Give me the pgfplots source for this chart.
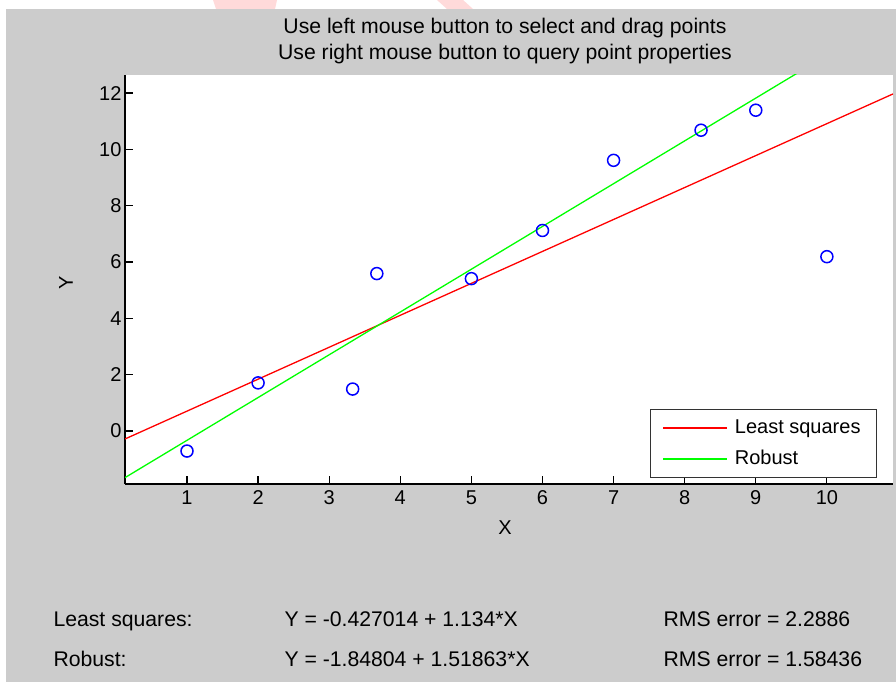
\documentclass[border=0pt]{standalone}
\usepackage{pgfplots}
\pgfplotsset{compat=1.18}
\usepackage{fontspec}
\setmainfont{Liberation Sans}
\definecolor{bg}{RGB}{204,204,204}
\definecolor{wm}{RGB}{255,218,218}
\newcommand\fs{\fontsize{20}{24}\selectfont}
\newcommand\ft{\fontsize{21.2}{25}\selectfont}
\begin{document}
\begin{tikzpicture}[x=1pt,y=1pt]
\path[use as bounding box] (0,0) rectangle (896,682);
\clip (0,0) rectangle (896,682);
\fill[white] (0,0) rectangle (896,682);
\fill[bg] (6,0) rectangle (896,673);
% faint watermark in the top strip
\fill[wm] (213,682) -- (277,682) -- (275,673) -- (216,673) -- cycle;
\fill[wm] (437,682) -- (463,682) -- (473,673) -- (447,673) -- cycle;
% title
\node[anchor=base, font=\ft] at (505,648) {Use left mouse button to select and drag points};
\node[anchor=base, font=\ft] at (505,622) {Use right mouse button to query point properties};
\begin{axis}[
  at={(125pt,198pt)}, anchor=south west,
  scale only axis, width=768pt, height=409pt,
  xmin=0.128, xmax=10.93, ymin=-1.88, ymax=12.64,
  axis lines*=left,
  axis line style={black, line width=1.3pt, -},
  axis background/.style={fill=white},
  tick align=inside,
  major tick length=8pt,
  every tick/.style={black, line width=1.2pt},
  xtick={1,2,3,4,5,6,7,8,9,10},
  ytick={0,2,4,6,8,10,12},
  tick label style={font=\fs},
  xticklabel style={yshift=-3pt},
  /pgf/number format/assume math mode=true,
  xlabel={X}, ylabel={Y},
  label style={font=\fs},
  xlabel style={at={(axis description cs:0.495,-0.1076)}, anchor=center},
  ylabel style={at={(axis description cs:-0.0768,0.491)}, anchor=center, rotate=0},
  legend style={at={(axis description cs:0.6836,0.0147)}, anchor=south west,
    draw=black!80, line width=1.2pt, fill=white, font=\fs,
    inner xsep=12pt, inner ysep=9pt, row sep=12pt, column sep=7pt,
    nodes={inner sep=0pt, text height=15pt, text depth=4pt}},
  legend cell align=left,
  legend image code/.code={\draw[#1, line width=1.3pt] (0pt,0pt) -- (64pt,0pt);},
]
\addplot[red, line width=1.3pt] coordinates {(0.128,-0.2819) (10.93,11.9676)};
\addlegendentry{Least squares\hspace*{4pt}}
\addplot[green, line width=1.3pt] coordinates {(0.128,-1.65366) (10.93,14.7506)};
\addlegendentry{Robust}
\addplot[only marks, blue, mark=o, mark size=6pt, line width=1.5pt, forget plot] coordinates {
(1,-0.71) (2,1.71) (3.33,1.49) (3.67,5.59) (5,5.41) (6,7.12) (7,9.61) (8.23,10.68) (9,11.39) (10,6.19)};
\end{axis}
% fit summary
\node[anchor=base west, font=\ft] at (50,55) {Least squares:};
\node[anchor=base west, font=\ft] at (281,55) {Y = -0.427014 + 1.134*X};
\node[anchor=base west, font=\ft] at (660,55) {RMS error = 2.2886};
\node[anchor=base west, font=\ft] at (50,15) {Robust:};
\node[anchor=base west, font=\ft] at (281,15) {Y = -1.84804 + 1.51863*X};
\node[anchor=base west, font=\ft] at (660,15) {RMS error = 1.58436};
\end{tikzpicture}
\end{document}
